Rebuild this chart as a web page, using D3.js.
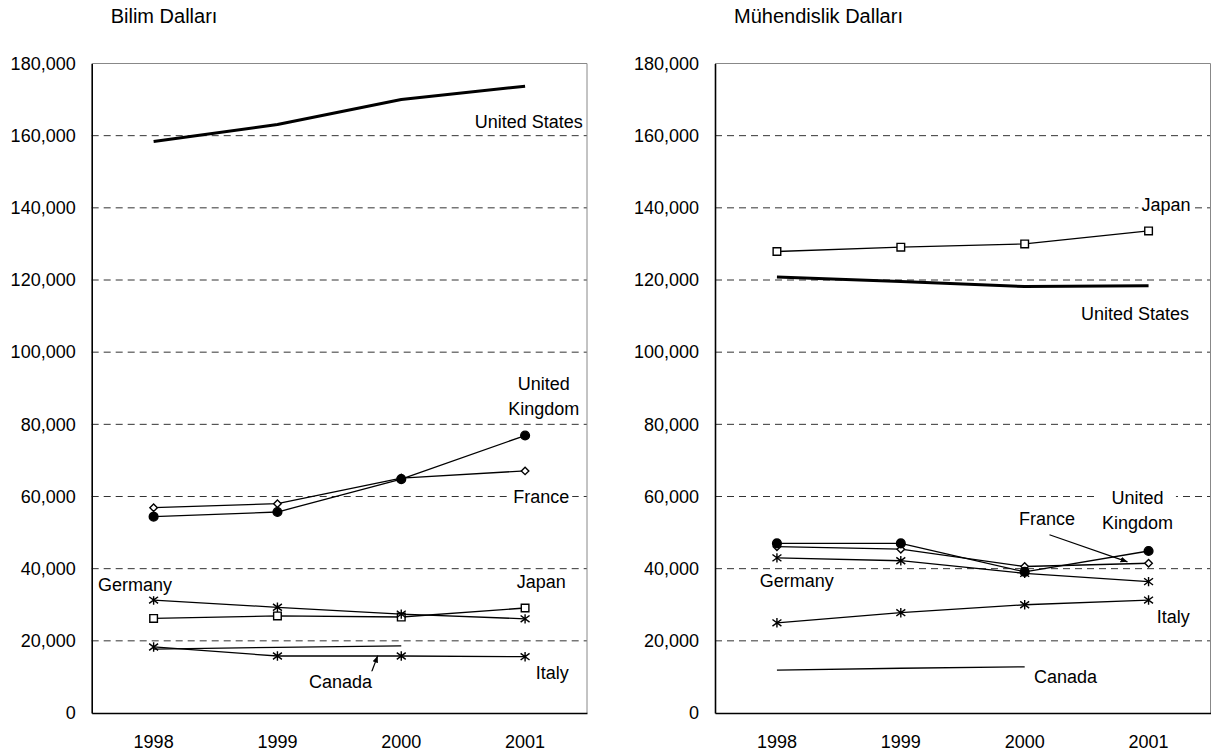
<!DOCTYPE html>
<html>
<head>
<meta charset="utf-8">
<script src="https://cdn.jsdelivr.net/npm/d3@7"></script>
<style>
  body { margin: 0; background: #fff; }
  svg { display: block; font-family: "Liberation Sans", Arial, sans-serif; }
  .tick text { font-size: 18px; fill: #000; }
</style>
</head>
<body>
<div id="chart"></div>
<script>
// categories and axis ticks
var years = ["1998", "1999", "2000", "2001"];
var yTicks = [0, 20000, 40000, 60000, 80000, 100000, 120000, 140000, 160000, 180000];

// Bilim Dallari (science)
var sciUnitedStates  = [158400, 163100, 170000, 173700];
var sciUnitedKingdom = [54400, 55700, 64800, 76900];
var sciFrance        = [56900, 58000, 65100, 67100];
var sciGermany       = [31300, 29300, 27400, 26100];
var sciJapan         = [26200, 26900, 26600, 29100];
var sciItaly         = [18300, 15800, 15800, 15600];
var sciCanada        = [17700, 18200, 18600, null];

// Muhendislik Dallari (engineering)
var engUnitedStates  = [120800, 119600, 118200, 118400];
var engJapan         = [127900, 129100, 130000, 133600];
var engUnitedKingdom = [47000, 47000, 39100, 44900];
var engFrance        = [46100, 45400, 40600, 41500];
var engGermany       = [43000, 42200, 38700, 36400];
var engItaly         = [25000, 27800, 30000, 31300];
var engCanada        = [11900, 12400, 12800, null];

// custom marker shapes
var symAsterisk = {
    draw: function(ctx, size) {
        var r = Math.sqrt(size) / 2;
        ctx.moveTo(-r, -r * 0.75); ctx.lineTo(r, r * 0.75);
        ctx.moveTo(-r, r * 0.75); ctx.lineTo(r, -r * 0.75);
        ctx.moveTo(0, -r * 1.05); ctx.lineTo(0, r * 1.05);
    }
};
var symDiamond = {
    draw: function(ctx, size) {
        var r = Math.sqrt(size) / 2 * 1.25;
        ctx.moveTo(0, -r); ctx.lineTo(r, 0); ctx.lineTo(0, r); ctx.lineTo(-r, 0); ctx.closePath();
    }
};

var panels = [
    {
        title: "Bilim Dalları", left: 91.7, width: 495.3,
        series: [
            { values: sciCanada, marker: null, width: 1.3 },
            { values: sciItaly, marker: "asterisk", width: 1.3 },
            { values: sciJapan, marker: "square", width: 1.3 },
            { values: sciGermany, marker: "asterisk", width: 1.3 },
            { values: sciFrance, marker: "diamond", width: 1.3 },
            { values: sciUnitedKingdom, marker: "circle", width: 1.3 },
            { values: sciUnitedStates, marker: null, width: 3 }
        ],
        // label anchors in data space: category index, value
        labels: [
            { lines: ["United States"], i: 3.03, v: 163900 },
            { lines: ["United", "Kingdom"], i: 3.15, v: 87800 },
            { lines: ["France"], i: 3.13, v: 59900 },
            { lines: ["Germany"], i: -0.15, v: 35500 },
            { lines: ["Japan"], i: 3.13, v: 36300 },
            { lines: ["Italy"], i: 3.22, v: 11100 },
            { lines: ["Canada"], i: 1.51, v: 8600 }
        ],
        arrows: [ { from: [1.75, 10400], to: [1.81, 15900] } ]
    },
    {
        title: "Mühendislik Dalları", left: 715, width: 495.5,
        series: [
            { values: engCanada, marker: null, width: 1.3 },
            { values: engItaly, marker: "asterisk", width: 1.3 },
            { values: engGermany, marker: "asterisk", width: 1.3 },
            { values: engFrance, marker: "diamond", width: 1.3 },
            { values: engUnitedKingdom, marker: "circle", width: 1.3 },
            { values: engJapan, marker: "square", width: 1.3 },
            { values: engUnitedStates, marker: null, width: 3 }
        ],
        labels: [
            { lines: ["Japan"], i: 3.14, v: 140900 },
            { lines: ["United States"], i: 2.89, v: 110600 },
            { lines: ["United", "Kingdom"], i: 2.91, v: 56300 },
            { lines: ["France"], i: 2.18, v: 53800 },
            { lines: ["Germany"], i: 0.16, v: 36600 },
            { lines: ["Italy"], i: 3.2, v: 26600 },
            { lines: ["Canada"], i: 2.33, v: 10000 }
        ],
        arrows: [ { from: [2.2, 49400], to: [2.83, 41900] } ]
    }
];

var W = 1216, H = 756, plotTop = 63.5, plotBottom = 713;

var svg = d3.select("#chart").append("svg")
    .attr("width", W).attr("height", H);

svg.append("defs").append("marker")
    .attr("id", "arrow")
    .attr("viewBox", "0 0 10 10")
    .attr("refX", 10).attr("refY", 5)
    .attr("markerWidth", 7).attr("markerHeight", 7)
    .attr("markerUnits", "userSpaceOnUse")
    .attr("orient", "auto")
    .append("path")
    .attr("d", "M0,1 L10,5 L0,9 Z")
    .attr("fill", "#000");

panels.forEach(function(p) {
    var x = d3.scaleBand().domain(years).range([p.left, p.left + p.width]);
    var bw = x.bandwidth();
    var xi = function(i) { return p.left + (i + 0.5) * bw; };
    var y = d3.scaleLinear().domain([0, 180000]).range([plotBottom, plotTop]);

    // title
    svg.append("text")
        .attr("x", p.left + 19)
        .attr("y", 23)
        .attr("font-size", 20)
        .text(p.title);

    // dashed gridlines
    svg.append("g")
        .selectAll("line")
        .data(yTicks.filter(function(t) { return t > 0 && t < 180000; }))
        .join("line")
        .attr("x1", p.left).attr("x2", p.left + p.width)
        .attr("y1", function(d) { return y(d); })
        .attr("y2", function(d) { return y(d); })
        .attr("stroke", "#333")
        .attr("stroke-width", 1)
        .attr("stroke-dasharray", "7,5");

    // frame: top/right grey, left/bottom black
    svg.append("path")
        .attr("d", "M" + p.left + "," + plotTop + "H" + (p.left + p.width) + "V" + plotBottom)
        .attr("fill", "none").attr("stroke", "#888").attr("stroke-width", 1);

    // axes
    var yAxis = svg.append("g")
        .attr("transform", "translate(" + p.left + ",0)")
        .call(d3.axisLeft(y).tickValues(yTicks).tickSize(0).tickPadding(16).tickFormat(d3.format(",")));
    yAxis.select(".domain").attr("stroke", "#000").attr("stroke-width", 1.6);
    yAxis.selectAll(".tick text").attr("font-family", null);

    var xAxis = svg.append("g")
        .attr("transform", "translate(0," + plotBottom + ")")
        .call(d3.axisBottom(x).tickSize(0).tickPadding(22));
    xAxis.select(".domain").attr("stroke", "#000").attr("stroke-width", 1.6);
    xAxis.selectAll(".tick text").attr("font-family", null);

    // series
    var line = d3.line()
        .defined(function(d) { return d != null; })
        .x(function(d, i) { return x(years[i]) + bw / 2; })
        .y(function(d) { return y(d); });

    p.series.forEach(function(s) {
        svg.append("path")
            .datum(s.values)
            .attr("d", line)
            .attr("fill", "none")
            .attr("stroke", "#000")
            .attr("stroke-width", s.width)
            .attr("stroke-linejoin", "round");
        if (!s.marker) return;
        var type, size, fill;
        if (s.marker === "square") { type = d3.symbolSquare; size = 58; fill = "#fff"; }
        else if (s.marker === "diamond") { type = symDiamond; size = 36; fill = "#fff"; }
        else if (s.marker === "circle") { type = d3.symbolCircle; size = 60; fill = "#000"; }
        else { type = symAsterisk; size = 80; fill = "none"; }
        svg.append("g")
            .selectAll("path")
            .data(s.values.map(function(v, i) { return { v: v, i: i }; }).filter(function(d) { return d.v != null; }))
            .join("path")
            .attr("transform", function(d) { return "translate(" + (x(years[d.i]) + bw / 2) + "," + y(d.v) + ")"; })
            .attr("d", d3.symbol().type(type).size(size))
            .attr("fill", fill)
            .attr("stroke", "#000")
            .attr("stroke-width", 1.4);
    });

    // arrows
    p.arrows.forEach(function(a) {
        svg.append("line")
            .attr("x1", xi(a.from[0])).attr("y1", y(a.from[1]))
            .attr("x2", xi(a.to[0])).attr("y2", y(a.to[1]))
            .attr("stroke", "#000").attr("stroke-width", 1.2)
            .attr("marker-end", "url(#arrow)");
    });

    // labels with white boxes
    p.labels.forEach(function(l) {
        var g = svg.append("g");
        var lh = 25;
        var cy = y(l.v) - (l.lines.length - 1) * lh / 2;
        var t = g.append("text")
            .attr("text-anchor", "middle")
            .attr("font-size", 18)
            .attr("fill", "#000");
        l.lines.forEach(function(txt, k) {
            t.append("tspan")
                .attr("x", xi(l.i))
                .attr("y", cy + k * lh)
                .attr("dy", "0.35em")
                .text(txt);
        });
        var bb = t.node().getBBox();
        g.insert("rect", "text")
            .attr("x", bb.x - 3).attr("y", bb.y - 1)
            .attr("width", bb.width + 6).attr("height", bb.height + 2)
            .attr("fill", "#fff");
    });
});
</script>
</body>
</html>
